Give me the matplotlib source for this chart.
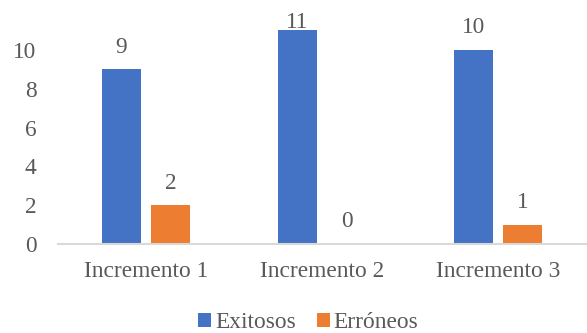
import matplotlib
matplotlib.use("Agg")
import matplotlib.pyplot as plt
import numpy as np

categories = ["Incremento 1", "Incremento 2", "Incremento 3"]
exitosos = [9, 11, 10]
erroneos = [2, 0, 1]
series_names = ["Exitosos", "Erróneos"]
yticks = [0, 2, 4, 6, 8, 10]

plt.rcParams['font.family'] = ['Liberation Serif', 'DejaVu Serif']
txt = '#595959'
fs = 16.8

fig = plt.figure(figsize=(5.87, 3.33), dpi=100)
ax = fig.add_axes([58/587, 89/333, 528/587, 233/333])

x = np.arange(len(categories))
w = 0.222
off = 0.139
b1 = ax.bar(x - off, exitosos, w, color='#4472C4', label=series_names[0])
b2 = ax.bar(x + off, erroneos, w, color='#ED7D31', label=series_names[1])
for bars, vals in ((b1, exitosos), (b2, erroneos)):
    for r, v in zip(bars, vals):
        ax.text(r.get_x() + r.get_width()/2, min(v + 0.85, 11.13), str(v),
                ha='center', va='baseline', fontsize=fs, color=txt)

ax.set_xlim(-0.5, 2.5)
ax.set_ylim(0, 12)
ax.set_yticks(yticks)
ax.set_xticks(x)
ax.set_xticklabels(categories)
for s in ['top', 'right', 'left']:
    ax.spines[s].set_visible(False)
ax.spines['bottom'].set_color('#d9d9d9')
ax.spines['bottom'].set_linewidth(1.5)
ax.tick_params(axis='both', length=0, labelsize=fs, labelcolor=txt)
ax.tick_params(axis='y', pad=15.5)
ax.tick_params(axis='x', pad=12)

leg = fig.legend(loc='center', bbox_to_anchor=(308.5/587, 10.5/333), ncol=2,
                 frameon=False, fontsize=fs, handlelength=0.55, handleheight=0.55,
                 handletextpad=0.17, columnspacing=0.9, borderpad=0)
for t in leg.get_texts():
    t.set_color(txt)

fig.savefig("out.png", dpi=100)
